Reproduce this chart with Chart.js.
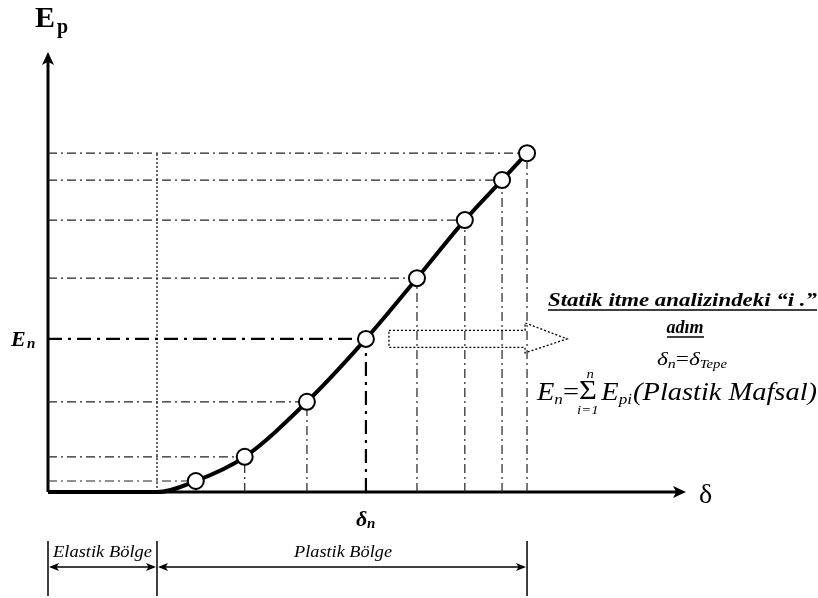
<!DOCTYPE html>
<html>
<head>
<meta charset="utf-8">
<script src="https://cdn.jsdelivr.net/npm/chart.js@4.4.1/dist/chart.umd.min.js"></script>
<style>
  html, body { margin: 0; padding: 0; background: #fff; }
  #wrap { width: 818px; height: 598px; position: relative; }
</style>
</head>
<body>
<div id="wrap"><canvas id="graphCanvas"></canvas></div>
<script>
// adım adım okunan itme noktaları (deplasman, plastik enerji)
const stepDisp = [2.78, 3.70, 4.87, 5.98, 6.94, 7.84, 8.54, 9.01];
const stepEnergy = [0.25, 0.80, 2.05, 3.48, 4.86, 6.18, 7.09, 7.70];
const elasticLimit = 2.05;
const currentStep = 3; // "i." adım -> En, δn
const zoneLabels = ['Elastik Bölge', 'Plastik Bölge'];

const SERIF = '"Liberation Serif", "DejaVu Serif", serif';

// eğri: elastik bölgede düz, sonra noktalardan geçer
const curveData = [{ x: 0, y: 0 }, { x: elasticLimit, y: 0 }];
stepDisp.forEach((d, i) => curveData.push({ x: d, y: stepEnergy[i] }));

const markerData = stepDisp.map((d, i) => ({ x: d, y: stepEnergy[i] }));

const datasets = [];

datasets.push({
  data: markerData,
  showLine: false,
  pointRadius: 8,
  pointBackgroundColor: '#fff',
  pointBorderColor: '#000',
  pointBorderWidth: 2,
  order: 0,
  clip: false
});

datasets.push({
  data: curveData,
  showLine: true,
  borderColor: '#000',
  borderWidth: 4,
  pointRadius: 0,
  cubicInterpolationMode: 'monotone',
  order: 1,
  clip: false
});

// kesikli-noktalı yardımcı çizgiler
stepDisp.forEach((d, i) => {
  const main = i === currentStep;
  const style = {
    showLine: true,
    borderColor: main ? '#000' : '#222',
    borderWidth: main ? 2.2 : 1.2,
    borderDash: main ? [14, 6, 3, 6] : [9, 4, 2, 4],
    pointRadius: 0,
    order: 2,
    clip: false
  };
  datasets.push(Object.assign({ data: [{ x: 0, y: stepEnergy[i] }, { x: d, y: stepEnergy[i] }] }, style));
  datasets.push(Object.assign({ data: [{ x: d, y: 0 }, { x: d, y: stepEnergy[i] }] }, style));
});

// elastik sınır (noktalı)
datasets.push({
  data: [{ x: elasticLimit, y: 0 }, { x: elasticLimit, y: stepEnergy[stepEnergy.length - 1] }],
  showLine: true,
  borderColor: '#333',
  borderWidth: 1.5,
  borderDash: [2, 2],
  pointRadius: 0,
  order: 2,
  clip: false
});

function arrowHead(ctx, x, y, dir, len, half) {
  ctx.save();
  ctx.translate(x, y);
  ctx.rotate(dir);
  ctx.beginPath();
  ctx.moveTo(0, 0);
  ctx.lineTo(-len, -half);
  ctx.lineTo(-len * 0.75, 0);
  ctx.lineTo(-len, half);
  ctx.closePath();
  ctx.fill();
  ctx.restore();
}

function fitText(ctx, txt, x, y, w) {
  const m = ctx.measureText(txt).width;
  ctx.save();
  ctx.translate(x, y);
  ctx.scale(w / m, 1);
  ctx.fillText(txt, 0, 0);
  ctx.restore();
}

// parça parça yazı: önce ölç, sonra hedef genişliğe sığdır
function drawRuns(ctx, runs, x, y, w) {
  let total = 0;
  runs.forEach(r => { ctx.font = r.f; r.w = ctx.measureText(r.t).width + (r.gap || 0); total += r.w; });
  ctx.save();
  ctx.translate(x, y);
  ctx.scale(w / total, 1);
  let cx = 0;
  runs.forEach(r => {
    ctx.font = r.f;
    ctx.textAlign = 'left';
    ctx.fillText(r.t, cx, r.dy || 0);
    if (r.above || r.below) {
      ctx.font = r.lf;
      ctx.textAlign = 'center';
      const mid = cx + (r.w - (r.gap || 0)) / 2;
      if (r.above) ctx.fillText(r.above, mid + 2, r.ady);
      if (r.below) ctx.fillText(r.below, mid, r.bdy);
    }
    cx += r.w;
  });
  ctx.restore();
}

const axesPlugin = {
  id: 'axesPlugin',
  beforeDatasetsDraw(chart) {
    const ctx = chart.ctx;
    const xs = chart.scales.x, ys = chart.scales.y;
    const x0 = xs.getPixelForValue(0), y0 = ys.getPixelForValue(0);
    const top = chart.chartArea.top, right = chart.chartArea.right;
    ctx.save();
    ctx.strokeStyle = '#000';
    ctx.fillStyle = '#000';
    ctx.lineWidth = 3;
    ctx.beginPath();
    ctx.moveTo(x0, y0);
    ctx.lineTo(x0, top + 6);
    ctx.moveTo(x0, y0);
    ctx.lineTo(right - 6, y0);
    ctx.stroke();
    arrowHead(ctx, x0, top, -Math.PI / 2, 13, 6);
    arrowHead(ctx, right, y0, 0, 13, 6);
    ctx.restore();
  },
  afterDraw(chart) {
    const ctx = chart.ctx;
    const xs = chart.scales.x, ys = chart.scales.y;
    const x0 = xs.getPixelForValue(0), y0 = ys.getPixelForValue(0);
    const right = chart.chartArea.right;
    const xn = xs.getPixelForValue(stepDisp[currentStep]);
    const yn = ys.getPixelForValue(stepEnergy[currentStep]);
    const xe = xs.getPixelForValue(elasticLimit);
    const xl = xs.getPixelForValue(stepDisp[stepDisp.length - 1]);

    ctx.save();
    ctx.fillStyle = '#000';
    ctx.strokeStyle = '#000';
    ctx.textBaseline = 'alphabetic';
    ctx.textAlign = 'left';

    // eksen başlıkları
    ctx.font = 'bold 30px ' + SERIF;
    ctx.fillText('E', 35, 27);
    ctx.font = 'bold 20px ' + SERIF;
    ctx.fillText('p', 57, 33);
    ctx.font = '28px ' + SERIF;
    ctx.fillText('δ', right + 13, y0 + 11);

    // En ve δn
    ctx.font = 'bold italic 22px ' + SERIF;
    ctx.fillText('E', 11, yn + 7);
    ctx.font = 'bold italic 15px ' + SERIF;
    ctx.fillText('n', 27, yn + 9);
    ctx.font = 'bold italic 22px ' + SERIF;
    ctx.fillText('δ', xn - 10, y0 + 34);
    ctx.font = 'bold italic 15px ' + SERIF;
    ctx.fillText('n', xn + 1, y0 + 36);

    // içi boş noktalı ok
    const ax0 = xn + 23, ax1 = xl - 2, ax2 = ax1 + 42;
    ctx.lineWidth = 1.3;
    ctx.setLineDash([2, 2]);
    ctx.beginPath();
    ctx.moveTo(ax0, yn - 8.5);
    ctx.lineTo(ax1, yn - 8.5);
    ctx.lineTo(ax1, yn - 16);
    ctx.lineTo(ax2, yn);
    ctx.lineTo(ax1, yn + 14);
    ctx.lineTo(ax1, yn + 8.5);
    ctx.lineTo(ax0, yn + 8.5);
    ctx.closePath();
    ctx.stroke();
    ctx.setLineDash([]);

    // açıklama metni
    ctx.font = 'bold italic 18px ' + SERIF;
    fitText(ctx, 'Statik itme analizindeki “i .”', 548, 306, 269);
    ctx.lineWidth = 1.5;
    ctx.beginPath();
    ctx.moveTo(548, 310); ctx.lineTo(817, 310);
    ctx.stroke();
    ctx.textAlign = 'center';
    ctx.fillText('adım', 685, 333);
    ctx.beginPath();
    ctx.moveTo(667, 337); ctx.lineTo(704, 337);
    ctx.stroke();

    // δn = δTepe
    drawRuns(ctx, [
      { t: 'δ', f: 'italic 19px ' + SERIF },
      { t: 'n', f: 'italic 13px ' + SERIF, dy: 3 },
      { t: '=', f: '19px ' + SERIF },
      { t: 'δ', f: 'italic 19px ' + SERIF },
      { t: 'Tepe', f: 'italic 12px ' + SERIF, dy: 3 }
    ], 657, 365, 70);

    // En = Σ Epi (Plastik Mafsal)
    drawRuns(ctx, [
      { t: 'E', f: 'italic 25px ' + SERIF },
      { t: 'n', f: 'italic 15px ' + SERIF, dy: 4 },
      { t: '=', f: '25px ' + SERIF },
      { t: 'Σ', f: '27px ' + SERIF, dy: -1, gap: 4, lf: 'italic 13px ' + SERIF,
        above: 'n', ady: -22, below: 'i=1', bdy: 14 },
      { t: 'E', f: 'italic 25px ' + SERIF },
      { t: 'pi', f: 'italic 15px ' + SERIF, dy: 4, gap: 1 },
      { t: '(Plastik Mafsal)', f: 'italic 25px ' + SERIF }
    ], 537, 400, 280);

    // bölge okları
    const bt = 541, bb = 596, ba = 567;
    ctx.lineWidth = 1.5;
    ctx.beginPath();
    [x0, xe, xl].forEach(px => { ctx.moveTo(px, bt); ctx.lineTo(px, bb); });
    ctx.moveTo(x0 + 3, ba); ctx.lineTo(xe - 3, ba);
    ctx.moveTo(xe + 3, ba); ctx.lineTo(xl - 3, ba);
    ctx.stroke();
    arrowHead(ctx, x0 + 1, ba, Math.PI, 10, 4);
    arrowHead(ctx, xe - 1, ba, 0, 10, 4);
    arrowHead(ctx, xe + 1, ba, Math.PI, 10, 4);
    arrowHead(ctx, xl - 1, ba, 0, 10, 4);

    ctx.font = 'italic 16px ' + SERIF;
    ctx.textAlign = 'left';
    fitText(ctx, zoneLabels[0], x0 + 5, 557, xe - x0 - 10);
    fitText(ctx, zoneLabels[1], (xe + xl) / 2 - 48, 557, 98);
    ctx.restore();
  }
};

const ctx = document.getElementById('graphCanvas').getContext('2d');
new Chart(ctx, {
  type: 'scatter',
  data: { datasets: datasets },
  options: {
    responsive: true,
    maintainAspectRatio: false,
    animation: false,
    layout: { padding: { left: 48, right: 132, top: 52, bottom: 106 } },
    scales: {
      x: { type: 'linear', min: 0, max: 12, display: false },
      y: { type: 'linear', min: 0, max: 10, display: false }
    },
    plugins: {
      legend: { display: false },
      tooltip: { enabled: false }
    }
  },
  plugins: [axesPlugin]
});
</script>
</body>
</html>
